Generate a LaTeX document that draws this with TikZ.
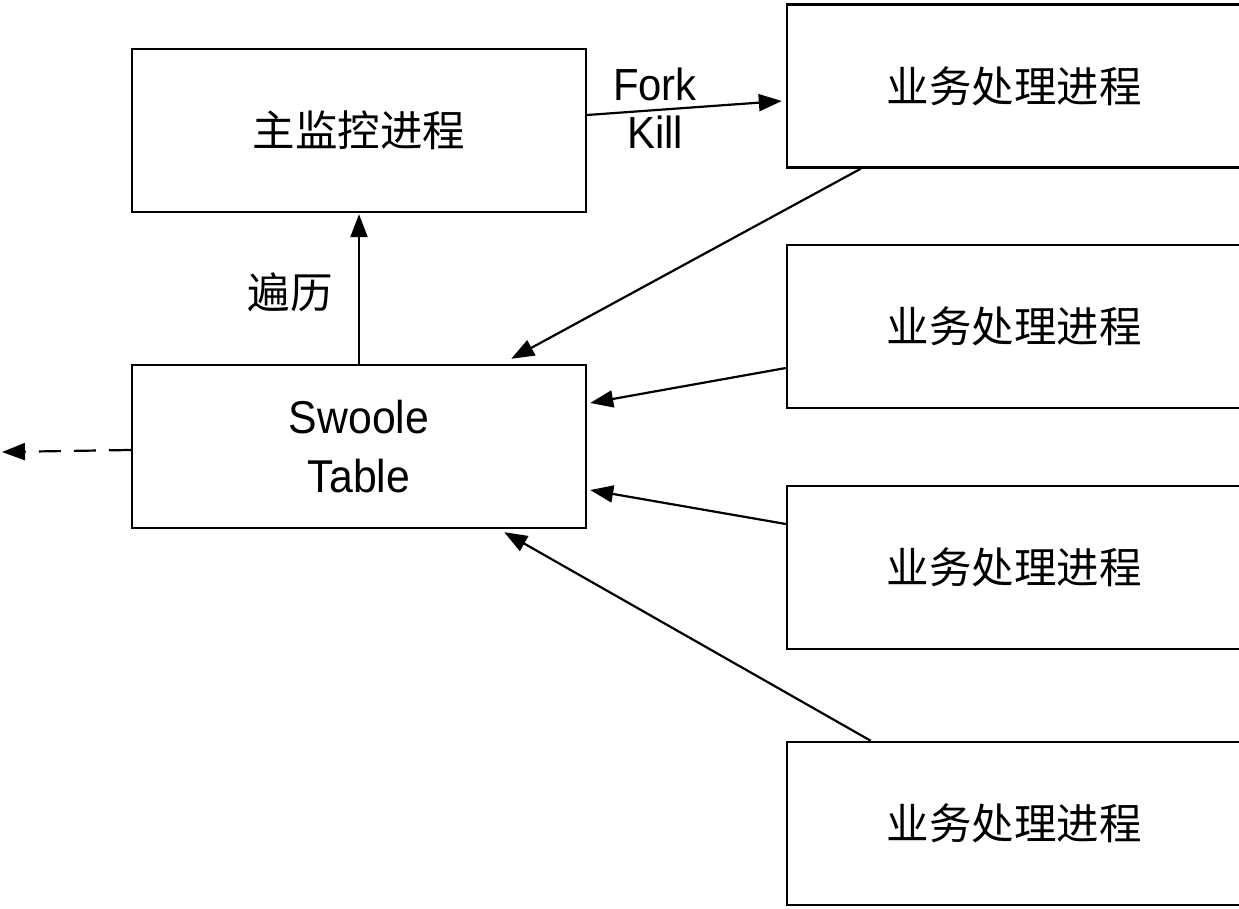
\documentclass[tikz,border=0pt]{standalone}
\usepackage{fontspec}
\setmainfont{Liberation Sans}[FakeStretch=0.93]
\newfontfamily\cjk{Noto Sans CJK SC}
\usetikzlibrary{arrows.meta}
\begin{document}
\begin{tikzpicture}[x=1pt,y=-1pt,
  box/.style={draw,line width=2.4pt,rectangle,inner sep=0pt,minimum width=454pt,minimum height=163pt,align=center},
  cn/.style={font=\cjk\fontsize{42.5}{50}\selectfont},
  lt/.style={font=\fontsize{46}{59}\selectfont},
  arr/.style={line width=2.2pt,-{Triangle[length=23pt,width=17pt]}}]
\useasboundingbox (0,0) rectangle (1239,909);
\clip (0,0) rectangle (1239,909);
\node[box,cn] (main) at (359,130.5) {主监控进程};
\node[box,lt] (sw) at (359,446.5) {Swoole\\Table};
\node[box,cn] (b1) at (1014,86) {业务处理进程};
\node[box,cn] (b2) at (1014,326.5) {业务处理进程};
\node[box,cn] (b3) at (1014,567.5) {业务处理进程};
\node[box,cn] (b4) at (1014,823.5) {业务处理进程};
\draw[arr] ([yshift=15.5pt]main.east) -- ([yshift=-15pt,xshift=-4pt]b1.west);
\node[font=\fontsize{45}{58}\selectfont] (fork) at (655,84) {Fork};
\node[font=\fontsize{45}{58}\selectfont] (kill) at (655,132) {Kill};
\draw[arr] (sw.north) -- ([yshift=-1pt]main.south);
\node[font=\cjk\fontsize{42.5}{50}\selectfont] (bl) at (290,292) {遍历};
\draw[arr] ([xshift=75pt]b1.south west) -- ([xshift=-76pt,yshift=5pt]sw.north east);
\draw[arr] ([yshift=-41.5pt]b2.west) -- ([yshift=43.5pt,xshift=3pt]sw.east);
\draw[arr] ([yshift=43.5pt]b3.west) -- ([yshift=-43.5pt,xshift=3pt]sw.east);
\draw[arr] ([xshift=85pt]b4.north west) -- ([xshift=-83pt,yshift=-3pt]sw.south east);
\coordinate (out) at (2,452);
\draw[arr,dash pattern=on 22pt off 13pt] ([yshift=-3.5pt]sw.west) -- (out);
\end{tikzpicture}
\end{document}
